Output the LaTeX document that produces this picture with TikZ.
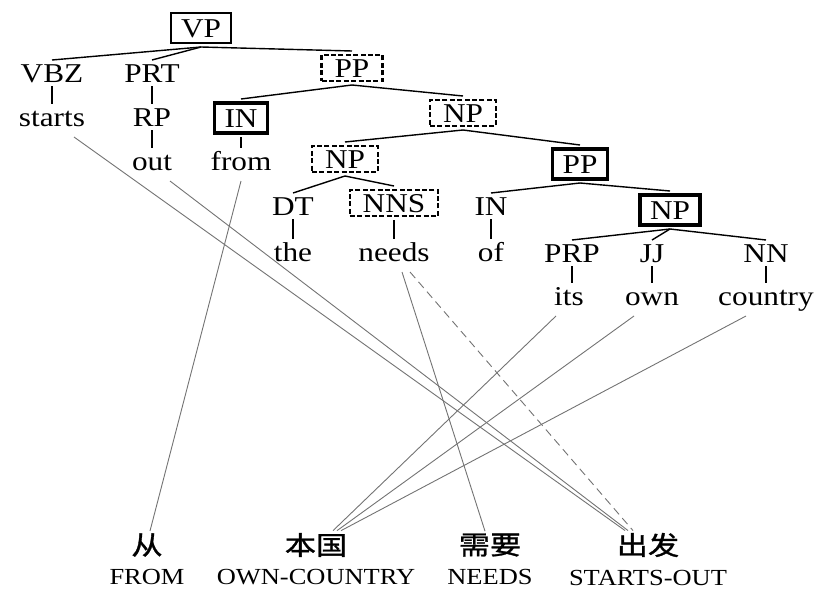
\documentclass[tikz,border=0pt]{standalone}
\usepackage{fontspec}
\setmainfont[FakeStretch=1.15]{Liberation Serif}
\newfontfamily\cjkfont[FakeStretch=1.2,FakeBold=1.2]{Noto Sans CJK SC}
\usetikzlibrary{positioning}

\begin{document}
\begin{tikzpicture}[
     x=0.5pt, y=-0.5pt,
     % define styles
     tag/.style={
         anchor=base,
         font=\fontsize{13.6}{16}\selectfont,
         text height=9pt, text depth=0pt,
         inner sep=1pt, outer sep=1pt
     },
     word/.style={ tag, text depth=3.5pt },
     plainbox/.style={
         tag, draw, line width=0.8pt,
         inner xsep=5pt, inner ysep=3pt, outer sep=2pt
     },
     thickbox/.style={ plainbox, line width=1.8pt },
     dashbox/.style={
         tag, draw, line width=1.2pt, dash pattern=on 2.5pt off 1.2pt,
         inner xsep=6.5pt, inner ysep=2pt, outer sep=2pt
     },
     cjk/.style={ font=\cjkfont\fontsize{13}{15}\selectfont, inner sep=1pt },
     gloss/.style={ font=\fontsize{11.5}{13}\selectfont, inner sep=1pt },
     branch/.style={ line width=0.7pt },
     link/.style={ black!55, line width=0.45pt }
]
\useasboundingbox (0,0) rectangle (819,589);

% tree nodes
\node[plainbox] (vp) at (201,37) {VP};
\node[tag] (vbz) at (52,82) {VBZ};
\node[word] (starts) at (52,126) {starts};
\node[tag] (prt) at (152,82) {PRT};
\node[tag] (rp) at (152,126) {RP};
\node[word] (out) at (152,170) {out};
\node[dashbox] (pp) at (352,77) {PP};
\node[thickbox] (in) at (241,127) {IN};
\node[word] (from) at (241,170) {from};
\node[dashbox] (np) at (463,122) {NP};
\node[dashbox] (npl) at (345,168) {NP};
\node[thickbox] (ppr) at (580,173) {PP};
\node[tag] (dt) at (293,215) {DT};
\node[word] (the) at (293,261) {the};
\node[dashbox] (nns) at (394,212) {NNS};
\node[word] (needs) at (394,261) {needs};
\node[tag] (inr) at (491,215) {IN};
\node[word] (of) at (491,261) {of};
\node[thickbox] (npr) at (670,219) {NP};
\node[tag] (prp) at (572,262) {PRP};
\node[word] (its) at (569,305) {its};
\node[tag] (jj) at (652,262) {JJ};
\node[word] (own) at (652,305) {own};
\node[tag] (nn) at (766,262) {NN};
\node[word] (country) at (766,305) {country};

% chinese words with glosses
\node[cjk] (cong) at (147,545) {从};
\node[cjk] (benguo) at (316,545) {本国};
\node[cjk] (xuyao) at (490,545) {需要};
\node[cjk] (chufa) at (648,545) {出发};
\node[gloss, below=4pt of cong] (g-cong) {FROM};
\node[gloss, below=4pt of benguo] (g-benguo) {OWN-COUNTRY};
\node[gloss, below=4pt of xuyao] (g-xuyao) {NEEDS};
\node[gloss, below=4pt of chufa] (g-chufa) {STARTS-OUT};

% tree branches
\draw[branch] (vp.south) -- (vbz.north);
\draw[branch] (vp.south) -- (prt.north);
\draw[branch] (vp.south) -- (pp.north);
\draw[branch] (vbz.south) -- (starts.north);
\draw[branch] (prt.south) -- (rp.north);
\draw[branch] (rp.south) -- (out.north);
\draw[branch] (pp.south) -- (in.north);
\draw[branch] (pp.south) -- (np.north);
\draw[branch] (in.south) -- (from.north);
\draw[branch] (np.south) -- (npl.north);
\draw[branch] (np.south) -- (ppr.north);
\draw[branch] (npl.south) -- (dt.north);
\draw[branch] (npl.south) -- (nns.north);
\draw[branch] (dt.south) -- (the.north);
\draw[branch] (nns.south) -- (needs.north);
\draw[branch] (ppr.south) -- (inr.north);
\draw[branch] (ppr.south) -- (npr.north);
\draw[branch] (inr.south) -- (of.north);
\draw[branch] (npr.south) -- (prp.north);
\draw[branch] (npr.south) -- (jj.north);
\draw[branch] (npr.south) -- (nn.north);
\draw[branch] (prp.south) -- (prp.south |- its.north);
\draw[branch] (jj.south) -- (own.north);
\draw[branch] (nn.south) -- (country.north);

% word alignment
\draw[link] (from.south) -- ([xshift=1.5pt]cong.north);
\draw[link] ([xshift=11pt]starts.south) -- ([xshift=-11.5pt]chufa.north);
\draw[link] ([xshift=9pt]out.south) -- ([xshift=-10pt]chufa.north);
\draw[link] ([xshift=4pt]needs.south) -- ([xshift=-2.5pt]xuyao.north);
\draw[link, dash pattern=on 4pt off 2.5pt] ([xshift=8pt]needs.south) -- ([xshift=-7.5pt]chufa.north);
\draw[link] ([xshift=-6.5pt]its.south) -- ([xshift=8.5pt]benguo.north);
\draw[link] ([xshift=-9pt]own.south) -- ([xshift=10.5pt]benguo.north);
\draw[link] ([xshift=-10pt]country.south) -- ([xshift=12.5pt]benguo.north);
\end{tikzpicture}
\end{document}
